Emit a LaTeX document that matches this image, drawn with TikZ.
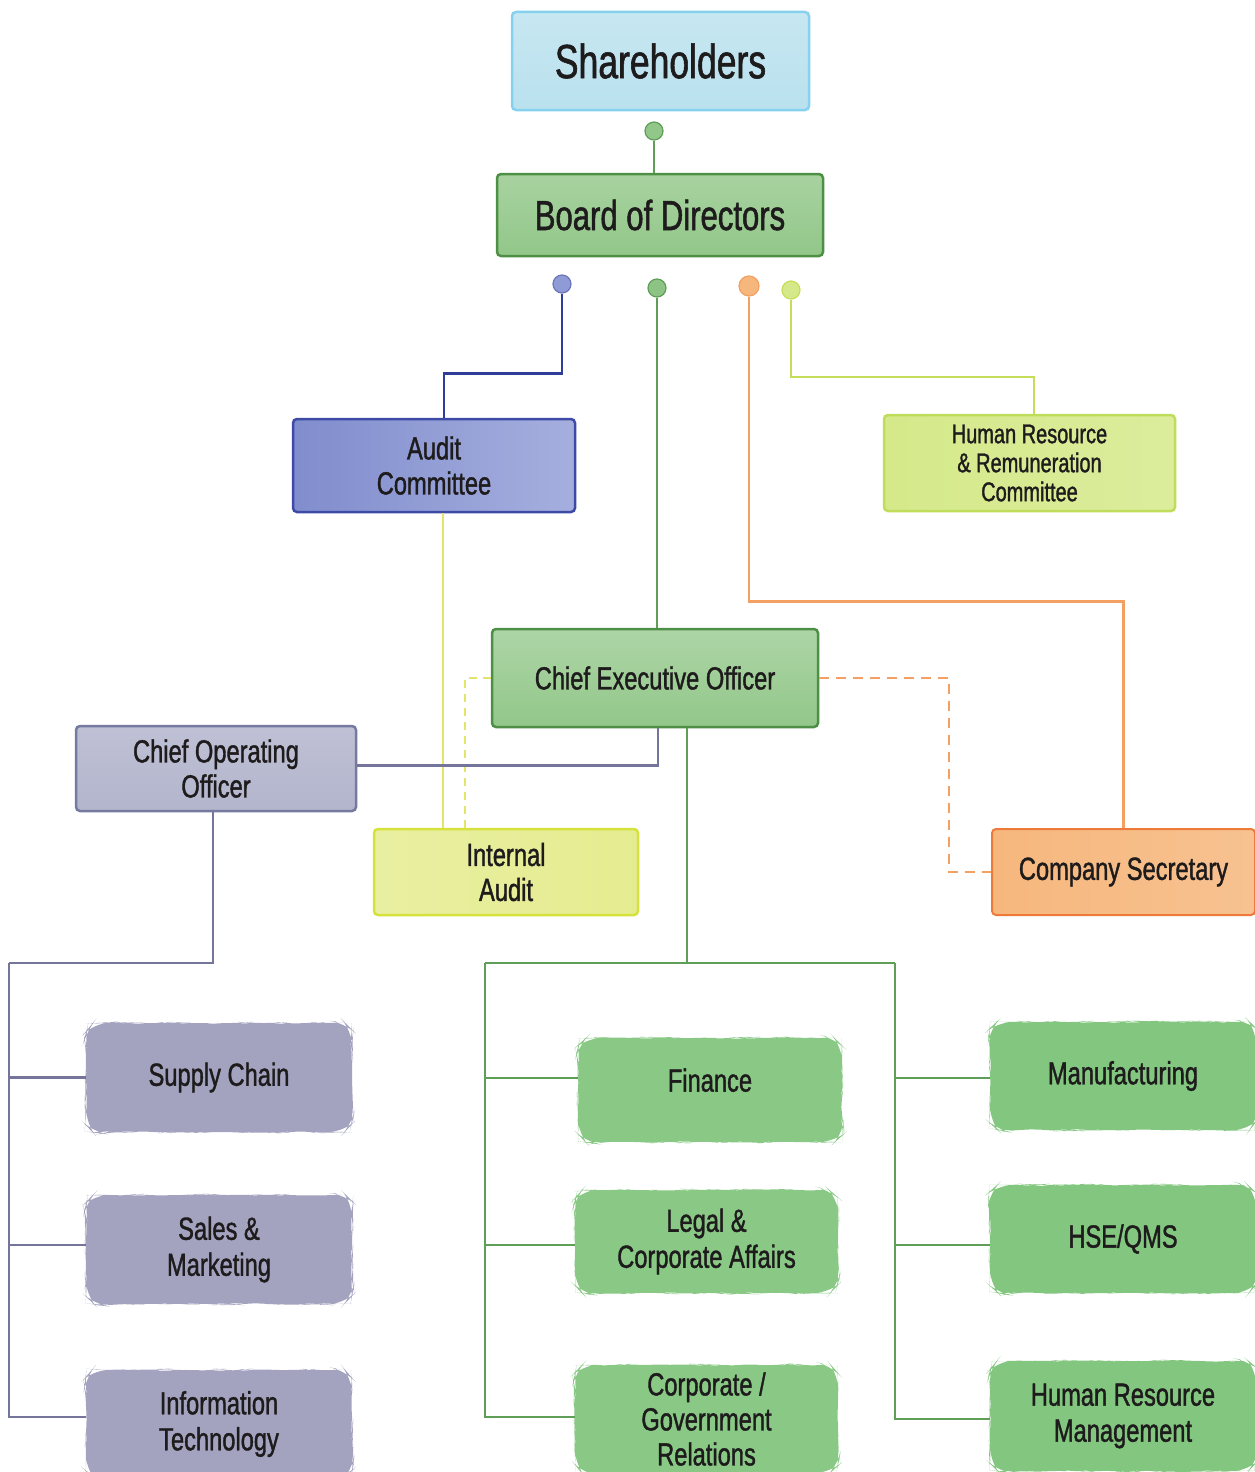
\documentclass[tikz,border=0pt]{standalone}
\usepackage{fontspec}
\setmainfont{Liberation Sans}[FakeStretch=0.74, FakeBold=1.2]
\usetikzlibrary{decorations.pathmorphing,calc}
\definecolor{txt}{HTML}{1E1B1C}
\definecolor{shF}{HTML}{B9E1EE}\definecolor{shB}{HTML}{86D2EE}
\definecolor{gF}{HTML}{92C789}\definecolor{gB}{HTML}{4D8F45}
\definecolor{bF}{HTML}{8F9BD6}\definecolor{bB}{HTML}{3D4BA6}
\definecolor{lgF}{HTML}{D5E98A}\definecolor{lgB}{HTML}{BFDD5A}
\definecolor{pF}{HTML}{B3B5CD}\definecolor{pB}{HTML}{777A9F}
\definecolor{yF}{HTML}{E5EC90}\definecolor{yB}{HTML}{D6E23C}
\definecolor{oF}{HTML}{F6B77D}\definecolor{oB}{HTML}{EE7A3A}
\definecolor{blueL}{HTML}{2E3D9A}
\definecolor{greenL}{HTML}{5E9E57}
\definecolor{orangeL}{HTML}{F3A062}
\definecolor{lgL}{HTML}{C5DE5A}
\definecolor{yL}{HTML}{E2E56A}
\definecolor{purpL}{HTML}{75759C}
\definecolor{blobP}{HTML}{A3A3BF}\definecolor{blobPl}{HTML}{B3B3CB}
\definecolor{blobG}{HTML}{82C67F}\definecolor{blobGl}{HTML}{A3D69D}
\begin{document}
\begin{tikzpicture}[x=1pt,y=-1pt,
  box/.style={rounded corners=4pt, line width=2.5pt, align=center, inner sep=0pt,
    text=txt, font=\fontsize{32}{35}\selectfont},
  blob/.style={inner sep=0pt, align=center, text=txt, font=\fontsize{32}{36}\selectfont,
    decorate, decoration={random steps, segment length=9pt, amplitude=0.8pt},
    rounded corners=16pt},
  dot/.style={circle, inner sep=0pt, minimum size=18pt, line width=1.2pt},
  conn/.style={line width=2.5pt},
  thin/.style={line width=2pt}
]
\pgfmathsetseed{7}
\useasboundingbox (0,0) rectangle (1254,1472);

% boxes
\node[box, draw=shB, top color=shF!80!white, bottom color=shF, minimum width=297pt, minimum height=98pt,
  font=\fontsize{48}{50}\selectfont] (sh) at (660.5,61) {Shareholders};
\node[box, draw=gB, top color=gF!80!white, bottom color=gF, minimum width=326pt, minimum height=82pt,
  font=\fontsize{42}{44}\selectfont] (bod) at (660,215) {Board of Directors};
\node[box, draw=bB, left color=bF!85!blueL, right color=bF!80!white, minimum width=282pt, minimum height=93pt] (ac) at (434,465.5) {Audit\\Committee};
\node[box, draw=lgB, left color=lgF, right color=lgF!85!white, minimum width=291pt, minimum height=96pt,
  font=\fontsize{27}{29}\selectfont] (hr) at (1029.5,463) {Human Resource\\\& Remuneration\\Committee};
\node[box, draw=gB, top color=gF!75!white, bottom color=gF, minimum width=326pt, minimum height=98pt] (ceo) at (655,678) {Chief Executive Officer};
\node[box, draw=pB, top color=pF!85!white, bottom color=pF, minimum width=280pt, minimum height=85pt] (coo) at (216,768.5) {Chief Operating\\Officer};
\node[box, draw=yB, left color=yF!85!white, right color=yF, minimum width=264pt, minimum height=86pt] (ia) at (506,872) {Internal\\Audit};
\node[box, draw=oB, line width=2pt, left color=oF, right color=oF!85!white, minimum width=263pt, minimum height=86pt] (cs) at (1123.5,872) {Company Secretary};

% dots
\node[dot, fill=gF, draw=greenL] (d0) at (654,131) {};
\node[dot, fill=bF, draw=blueL!70!white] (d1) at (562,284) {};
\node[dot, fill=gF!90!greenL, draw=greenL] (d2) at (657,288) {};
\node[dot, fill=oF, draw=orangeL, minimum size=20pt] (d3) at (749,286) {};
\node[dot, fill=lgF, draw=lgL] (d4) at (791,290) {};

% blobs
\node[blob, fill=blobP, minimum width=266pt, minimum height=109pt] (sc) at (219,1077.5) {Supply Chain};
\node[blob, fill=blobP, minimum width=266pt, minimum height=109pt] (sm) at (219,1249.5) {Sales \&\\Marketing};
\node[blob, fill=blobP, minimum width=266pt, minimum height=108pt] (it) at (219,1424) {Information\\Technology};
\node[blob, fill=blobG!80!blobGl, minimum width=264pt, minimum height=104pt] (fin) at (710,1090) {Finance\\[-16pt]};
\node[blob, fill=blobG!80!blobGl, minimum width=263pt, minimum height=103pt] (leg) at (706.5,1241.5) {Legal \&\\Corporate Affairs};
\node[blob, fill=blobG!80!blobGl, minimum width=263pt, minimum height=108pt, font=\fontsize{32}{35}\selectfont] (cg) at (706.5,1419) {Corporate /\\Government\\Relations};
\node[blob, fill=blobG, minimum width=266pt, minimum height=108pt] (mf) at (1123,1076) {Manufacturing};
\node[blob, fill=blobG, minimum width=266pt, minimum height=108pt] (hse) at (1123,1239) {HSE/QMS};
\node[blob, fill=blobG, minimum width=266pt, minimum height=110pt] (hrm) at (1123,1416) {Human Resource\\Management};

% connectors top
\draw[conn, greenL] (d0.south) -- (d0.south |- bod.north);
\draw[conn, blueL] (d1.south) -- ++(0,80) -| ([xshift=10pt]ac.north);
\draw[conn, greenL] (d2.south) -- (d2.south |- ceo.north);
\draw[conn, orangeL] (d3.south) -- ++(0,305) -| (cs.north);
\draw[thin, lgL] (d4.south) -- ++(0,77) -| ([xshift=4.5pt]hr.north);
\draw[thin, yL] ([xshift=9pt]ac.south) -- ([xshift=9pt]ac.south |- ia.north);
\draw[thin, yL, dash pattern=on 8pt off 6pt] (ceo.west) -| ([xshift=-41pt]ia.north);
\draw[thin, orangeL, dash pattern=on 10pt off 7pt] (ceo.east) -- ++(130,0) |- (cs.west);
\draw[conn, purpL] ([yshift=3pt]coo.east) -| ([xshift=3pt]ceo.south);

% COO tree
\coordinate (pL) at (9,963);
\draw[conn, purpL] ([xshift=-3pt]coo.south) |- (pL);
\draw[conn, purpL] (pL) |- (sc.west);
\draw[conn, purpL] (pL) |- ([yshift=4.5pt]sm.west);
\draw[conn, purpL] (pL) |- ([yshift=7pt]it.west);

% CEO tree
\coordinate (gL) at (485,963);
\coordinate (gR) at (895,963);
\draw[conn, greenL] ([xshift=32pt]ceo.south) -- ([xshift=32pt]ceo.south |- gL);
\draw[conn, greenL] (gL) -- (gR);
\draw[conn, greenL] (gL) |- ([yshift=12pt]fin.west);
\draw[conn, greenL] (gL) |- ([yshift=-3.5pt]leg.west);
\draw[conn, greenL] (gL) |- ([yshift=2pt]cg.west);
\draw[conn, greenL] (gR) |- ([yshift=-2pt]mf.west);
\draw[conn, greenL] (gR) |- ([yshift=-6pt]hse.west);
\draw[conn, greenL] (gR) |- ([yshift=-3pt]hrm.west);
\end{tikzpicture}
\end{document}
